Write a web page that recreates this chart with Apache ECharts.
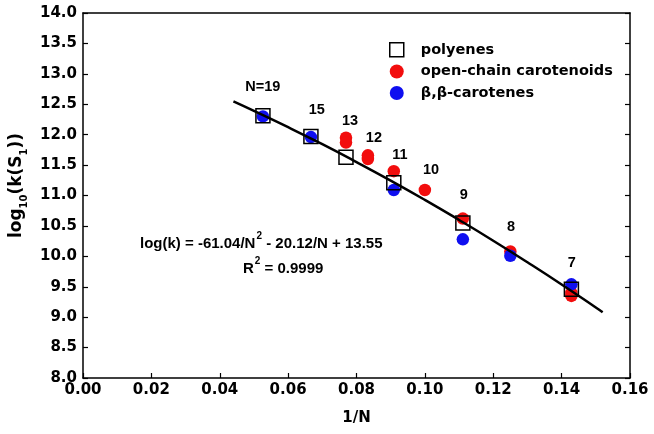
<!DOCTYPE html>
<html>
<head>
<meta charset="utf-8">
<script src="https://cdn.jsdelivr.net/npm/echarts@6/dist/echarts.min.js"></script>
<style>html,body{margin:0;padding:0;background:#fff;}#c{width:654px;height:434px;}</style>
</head>
<body>
<div id="c"></div>
<script>
// ---- data ----
var xTicks = [0, 0.02, 0.04, 0.06, 0.08, 0.10, 0.12, 0.14, 0.16];
var yTicks = [8.0, 8.5, 9.0, 9.5, 10.0, 10.5, 11.0, 11.5, 12.0, 12.5, 13.0, 13.5, 14.0];

var polyenesN   = [19, 15, 13, 11, 9, 7];
var polyenesLog = [12.31, 11.97, 11.63, 11.21, 10.55, 9.46];

var openChainN   = [13, 13, 12, 12, 11, 10, 9, 8, 7, 7];
var openChainLog = [11.95, 11.87, 11.66, 11.60, 11.40, 11.09, 10.62, 10.08, 9.40, 9.35];

var betaN   = [19, 15, 11, 9, 8, 7];
var betaLog = [12.30, 11.96, 11.09, 10.28, 10.01, 9.54];

// fitted curve, sampled along the drawn line
var fitX = [0.044, 0.05, 0.06, 0.07, 0.08, 0.09, 0.10, 0.11, 0.12, 0.13, 0.14, 0.15, 0.152];
var fitY = [12.547, 12.391, 12.123, 11.843, 11.549, 11.245, 10.928, 10.598, 10.257, 9.902, 9.537, 9.159, 9.082];

// chain-length annotations (text, x, y in data units)
var nLabels = ['N=19', '15', '13', '12', '11', '10', '9', '8', '7'];
var nLabelX = [0.0526, 0.0684, 0.0781, 0.0851, 0.0927, 0.1018, 0.1114, 0.1252, 0.1430];
var nLabelY = [12.78, 12.41, 12.22, 11.95, 11.67, 11.42, 11.01, 10.48, 9.89];

var seriesNames = ['polyenes', 'open-chain carotenoids', 'β,β-carotenes'];
var eqText = 'log(k) = -61.04/N';
var eqText2 = ' - 20.12/N + 13.55';
var r2Text = ' = 0.9999';
// ----------------------------------------------

function pts(ns, vals) { return ns.map(function (n, i) { return [1 / n, vals[i]]; }); }

var F = 'DejaVu Sans';
var L = 'Liberation Sans';
var chart = echarts.init(document.getElementById('c'), null, {renderer: 'canvas'});

var axisCommon = {
  axisLine: {show: true, onZero: false, lineStyle: {color: '#000', width: 1.5}},
  axisTick: {show: true, inside: true, length: 5, lineStyle: {color: '#000', width: 1.2}},
  splitLine: {show: false}
};

chart.setOption({
  animation: false,
  backgroundColor: '#fff',
  grid: {left: 83, right: 24, top: 13, bottom: 56, containLabel: false},
  legend: {
    orient: 'vertical',
    left: 384, top: 37,
    itemWidth: 14, itemHeight: 14, itemGap: 6.5,
    textStyle: {fontFamily: F, fontWeight: 'bold', fontSize: 14.5, color: '#000', padding: [0, 0, 0, 12]},
    selectedMode: false,
    data: [
      {name: seriesNames[0], icon: 'rect', itemStyle: {color: 'rgba(0,0,0,0)', borderColor: '#000', borderWidth: 1.5}},
      {name: seriesNames[1], icon: 'circle'},
      {name: seriesNames[2], icon: 'circle'}
    ]
  },
  xAxis: [
    Object.assign({}, axisCommon, {
      type: 'value', min: xTicks[0], max: xTicks[xTicks.length - 1], interval: 0.02,
      position: 'bottom',
      name: '1/N', nameLocation: 'middle', nameGap: 33,
      nameTextStyle: {fontFamily: F, fontWeight: 'bold', fontSize: 15, color: '#000'},
      axisLabel: {margin: 5, fontFamily: F, fontWeight: 'bold', fontSize: 15, color: '#000',
        formatter: function (v) { return v.toFixed(2); }}
    }),
    Object.assign({}, axisCommon, {
      type: 'value', min: xTicks[0], max: xTicks[xTicks.length - 1], interval: 0.02,
      position: 'top', axisTick: {show: false}, axisLabel: {show: false}
    })
  ],
  yAxis: [
    Object.assign({}, axisCommon, {
      type: 'value', min: yTicks[0], max: yTicks[yTicks.length - 1], interval: 0.5,
      position: 'left',
      name: '{a|log}{s|10}{a|(k(S}{s|1}{a|))}', nameLocation: 'middle', nameGap: 58, nameRotate: 90,
      nameTextStyle: {
        padding: [0, 0, 0, 20],
        rich: {
          a: {fontFamily: F, fontWeight: 'bold', fontSize: 17, color: '#000', lineHeight: 22, verticalAlign: 'bottom'},
          s: {fontFamily: F, fontWeight: 'bold', fontSize: 10, color: '#000', lineHeight: 22, verticalAlign: 'bottom', padding: [0, 0, -4, 0]}
        }
      },
      axisLabel: {margin: 6, fontFamily: F, fontWeight: 'bold', fontSize: 15, color: '#000',
        formatter: function (v) { return v.toFixed(1); }}
    }),
    Object.assign({}, axisCommon, {
      type: 'value', min: yTicks[0], max: yTicks[yTicks.length - 1], interval: 0.5,
      position: 'right', axisLabel: {show: false}
    })
  ],
  graphic: [
    {
      id: 'eq', type: 'text', left: 140, top: 231, z: 10,
      style: {
        text: '{a|' + eqText + '}{p|2}{a|' + eqText2 + '}',
        rich: {
          a: {fontFamily: L, fontWeight: 'bold', fontSize: 15, fill: '#000', lineHeight: 20, verticalAlign: 'bottom'},
          p: {fontFamily: L, fontWeight: 'bold', fontSize: 10, fill: '#000', lineHeight: 20, verticalAlign: 'top', padding: [0, 0, 0, 1]}
        }
      }
    },
    {
      id: 'r2', type: 'text', left: 243, top: 256, z: 10,
      style: {
        text: '{a|R}{p|2}{a|' + r2Text + '}',
        rich: {
          a: {fontFamily: L, fontWeight: 'bold', fontSize: 15, fill: '#000', lineHeight: 20, verticalAlign: 'bottom'},
          p: {fontFamily: L, fontWeight: 'bold', fontSize: 10, fill: '#000', lineHeight: 20, verticalAlign: 'top', padding: [0, 0, 0, 1]}
        }
      }
    }
  ],
  series: [
    {
      name: seriesNames[1], type: 'scatter', symbol: 'circle', symbolSize: 12.5, z: 2,
      itemStyle: {color: '#f20d0d', opacity: 1},
      data: pts(openChainN, openChainLog)
    },
    {
      name: seriesNames[2], type: 'scatter', symbol: 'circle', symbolSize: 12.5, z: 3,
      itemStyle: {color: '#0f0ff0', opacity: 1},
      data: pts(betaN, betaLog)
    },
    {
      name: seriesNames[0], type: 'scatter', symbol: 'rect', symbolSize: 14, z: 4,
      itemStyle: {color: 'rgba(0,0,0,0)', borderColor: '#000', borderWidth: 1.5, opacity: 1},
      data: pts(polyenesN, polyenesLog)
    },
    {
      name: 'fit', type: 'line', smooth: true, symbol: 'none', z: 5,
      lineStyle: {color: '#000', width: 2.5},
      data: fitX.map(function (x, i) { return [x, fitY[i]]; })
    }
  ]
});

// place chain-length labels through the chart's own coordinate conversion
var placed = nLabels.map(function (t, i) {
  var p = chart.convertToPixel({gridIndex: 0}, [nLabelX[i], nLabelY[i]]);
  return {
    id: 'nlab' + i, type: 'text', z: 20, x: p[0], y: p[1],
    style: {text: t, fontFamily: L, fontWeight: 'bold', fontSize: 14.5, fill: '#000',
      align: 'center', verticalAlign: 'middle'}
  };
});
chart.setOption({graphic: placed});
</script>
</body>
</html>
